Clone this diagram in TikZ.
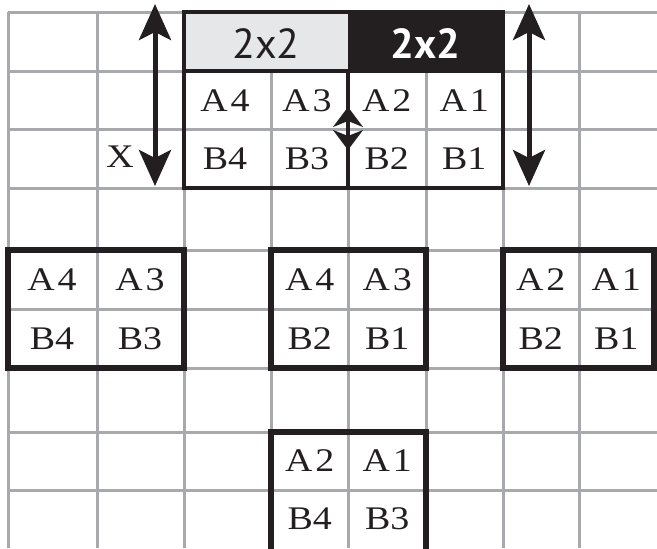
\documentclass[tikz,border=0pt]{standalone}
\usepackage{fontspec}
\setmainfont{Liberation Serif}
\newfontfamily\cellfont[FakeStretch=1.15]{Liberation Serif}
\newfontfamily\hdfont{PT Sans}
\usetikzlibrary{arrows.meta,positioning,calc,fit}
\definecolor{gridc}{HTML}{A7A9AC}
\definecolor{inkc}{HTML}{231F20}
\definecolor{hdlc}{HTML}{E6E7E8}
\tikzset{
  gline/.style={draw=gridc,line width=1.5pt},
  lbl/.style={font=\cellfont\fontsize{16.5}{16.5}\selectfont,text=inkc,inner sep=0pt},
  frm/.style={draw=inkc,line width=3pt},
  tfrm/.style={draw=inkc,line width=2pt},
  hdl/.style={fill=hdlc,inner sep=0pt},
  hdd/.style={hdl,fill=inkc},
  hdt/.style={font=\hdfont\fontsize{21}{21}\selectfont,text=inkc,inner sep=0pt},
  barr/.style={{Stealth[length=18pt,width=16pt,inset=4pt]}-{Stealth[length=18pt,width=16pt,inset=4pt]},line width=2.5pt,draw=inkc},
  sarr/.style={{Stealth[length=10pt,width=15pt,inset=3pt]}-{Stealth[length=10pt,width=15pt,inset=3pt]},line width=1.2pt,draw=inkc},
}
% name, x left, x right, y top, y bottom, top row, bottom row
\newcommand{\quadblk}[7]{%
  \coordinate (#1-nw) at (#2,#4); \coordinate (#1-se) at (#3,#5);
  \foreach \t [count=\k] in {#6} {\node[lbl] (#1-a\k) at ({#2+(2*\k-1)*(#3-#2)/4},{#4+(#5-#4)/4}) {\t};}
  \foreach \t [count=\k] in {#7} {\node[lbl] (#1-b\k) at ({#2+(2*\k-1)*(#3-#2)/4},{#4+3*(#5-#4)/4}) {\t};}}

\begin{document}
\begin{tikzpicture}[x=0.5pt,y=-0.5pt]
  \clip (0,0) rectangle (657,548);
  % grid
  \foreach \gy in {12,71,129,188,250,309,368,432,490} \draw[gline] (8,\gy) -- (657,\gy);
  \foreach \gx in {8,97,184,271,348,426,503,579} \draw[gline] (\gx,12) -- (\gx,548);
  % header
  \coordinate (h0) at (184,12); \coordinate (h1) at (348,71); \coordinate (h2) at (503,71);
  \node[hdl,fit=(h0)(h1)] (hl) {};
  \node[hdd,fit=(h0 -| h1)(h2)] (hd) {};
  \node[hdt] (hlt) at ($(hl.center)+(0,2)$) {2x2};
  \node[hdt,text=white,font=\hdfont\bfseries\fontsize{21}{21}\selectfont] (hdt) at ($(hd.center)+(0,2)$) {2x2};
  \quadblk{T1}{184}{348}{71}{188}{A\kern1.5pt4,A\kern1.5pt3}{B4,B3}
  \quadblk{T2}{348}{503}{71}{188}{A\kern1.5pt2,A\kern1.5pt1}{B2,B1}
  \draw[tfrm] (hl.north west) rectangle (hd.south east);
  \draw[tfrm] (T1-nw) rectangle (T1-se);
  \draw[tfrm] (T2-nw) rectangle (T2-se);
  \node[lbl] (x) at (120,157) {X};
  % arrows
  \coordinate (lt) at (155,4); \coordinate (lb) at (155,186);
  \coordinate (rt) at (529,4); \coordinate (rb) at (529,186);
  \coordinate (mt) at (348,107); \coordinate (mb) at (348,150);
  \draw[barr] (lt) -- (lb);
  \draw[barr] (rt) -- (rb);
  \draw[sarr] (mt) -- (mb);
  % split results
  \quadblk{L}{8}{184}{250}{368}{A\kern1.5pt4,A\kern1.5pt3}{B4,B3}
  \quadblk{M}{271}{426}{250}{368}{A\kern1.5pt4,A\kern1.5pt3}{B2,B1}
  \quadblk{R}{503}{654}{250}{368}{A\kern1.5pt2,A\kern1.5pt1}{B2,B1}
  \quadblk{D}{271}{426}{432}{548}{A\kern1.5pt2,A\kern1.5pt1}{B4,B3}
  \draw[frm] (L-nw) rectangle (L-se);
  \draw[frm] (M-nw) rectangle (M-se);
  \draw[frm] (R-nw) rectangle (R-se);
  \draw[frm] ($(D-nw |- D-se)+(0,10)$) -- (D-nw) -| ($(D-se)+(0,10)$);
\end{tikzpicture}
\end{document}
